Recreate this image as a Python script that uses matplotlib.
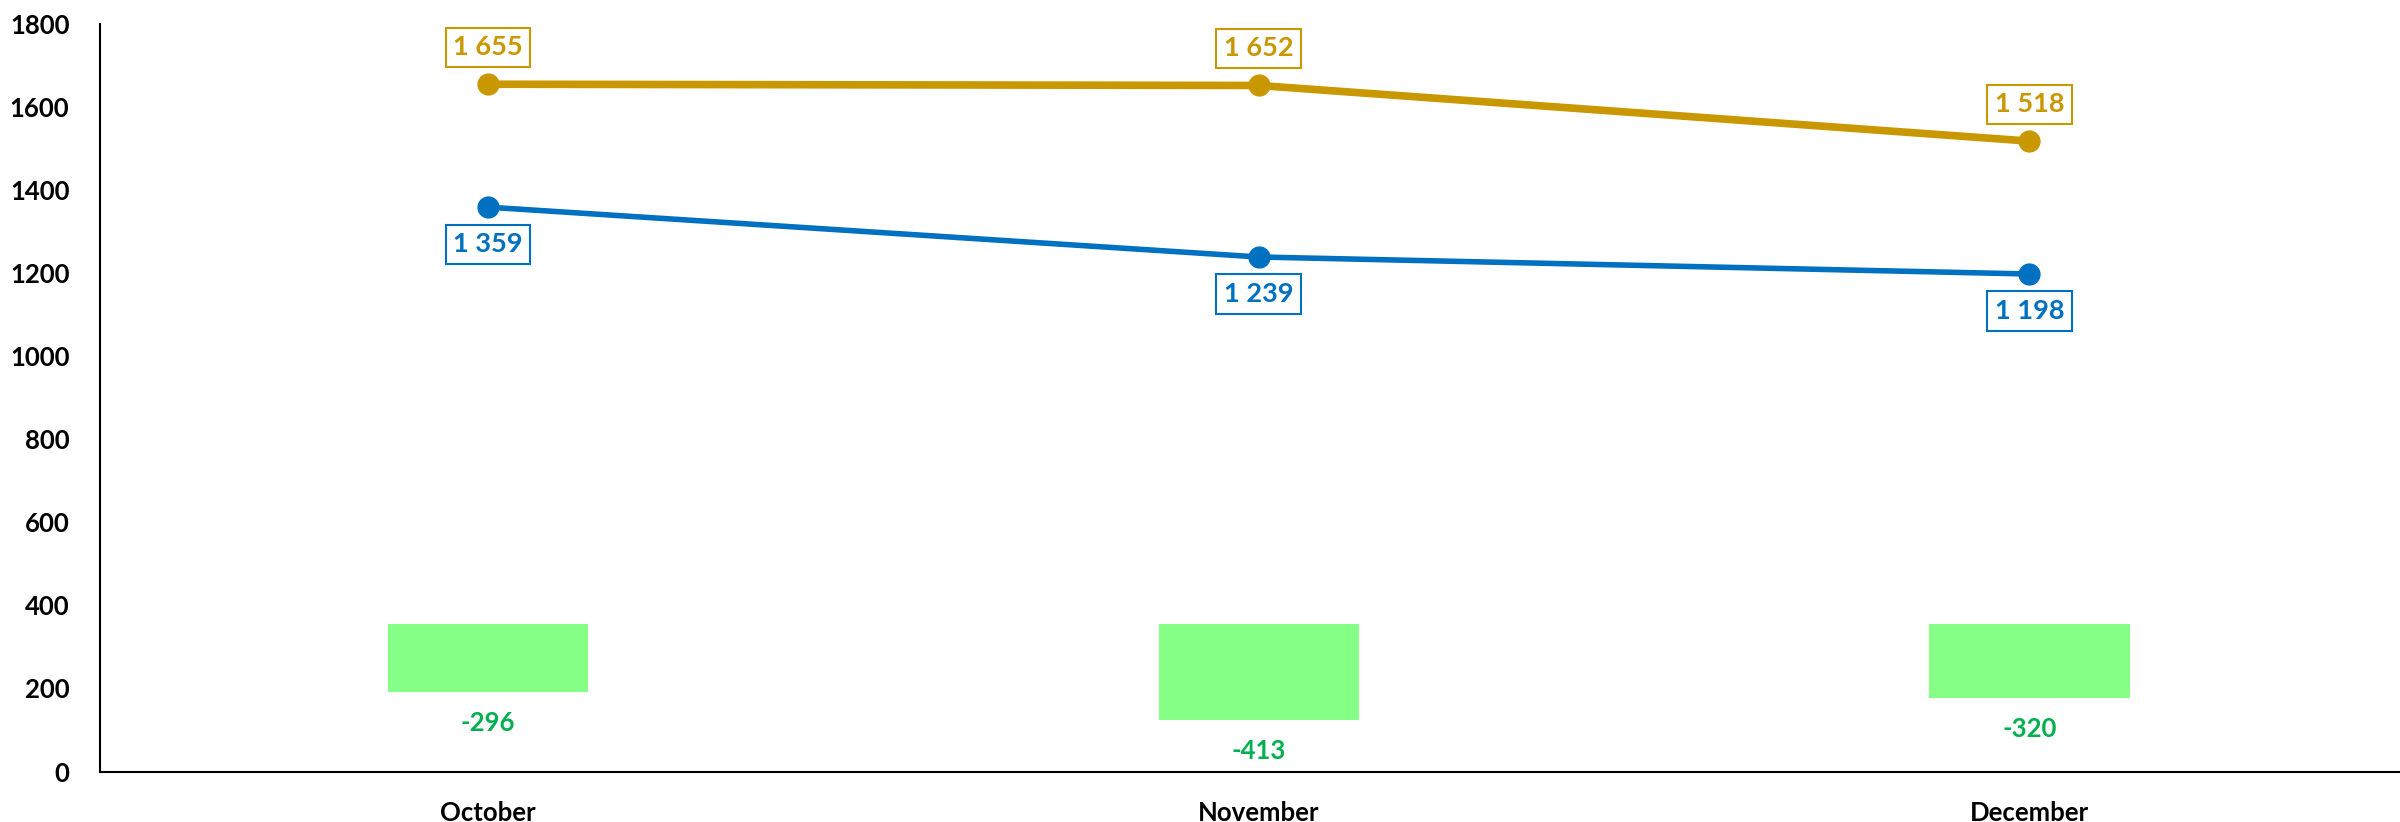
import matplotlib
matplotlib.use("Agg")
import matplotlib.pyplot as plt
import numpy as np

plt.rcParams["font.family"] = ["Lato", "DejaVu Sans"]
plt.rcParams["font.weight"] = "bold"

months = ["October", "November", "December"]
gold_values = [1655, 1652, 1518]
blue_values = [1359, 1239, 1198]
diff_values = [-296, -413, -320]

GOLD = "#C99700"
BLUE = "#0070C0"
BAR_GREEN = "#85FF85"
TEXT_GREEN = "#00B050"


def fmt(v):
    return f"{v:,}".replace(",", " ")


fig = plt.figure(figsize=(24, 8.22), dpi=100)
ax = fig.add_axes([0.04167, 0.0614, 0.95833, 0.9094])
x = np.arange(len(months))

# hidden axis for the difference bars
ax2 = ax.twinx()
ax2.bar(x, diff_values, width=0.26, color=BAR_GREEN, zorder=1)
ax2.set_ylim(-636, 2579)
ax2.axis("off")
for xi, d in zip(x, diff_values):
    ax2.annotate(str(d), (xi, d), xytext=(0, -31), textcoords="offset pixels",
                 ha="center", va="center", fontsize=18.5, color=TEXT_GREEN,
                 fontweight="bold")

ax.set_zorder(ax2.get_zorder() + 1)
ax.patch.set_visible(False)

ax.plot(x, gold_values, color=GOLD, linewidth=5.5, marker="o", markersize=15,
        solid_capstyle="round")
ax.plot(x, blue_values, color=BLUE, linewidth=4, marker="o", markersize=15,
        solid_capstyle="round")

for xi, v in zip(x, gold_values):
    ax.annotate(fmt(v), (xi, v), xytext=(0, 37), textcoords="offset pixels",
                ha="center", va="center", fontsize=19.5, color=GOLD, fontweight="bold",
                bbox=dict(boxstyle="square,pad=0.28", fc="white", ec=GOLD, lw=1.5))
for xi, v in zip(x, blue_values):
    ax.annotate(fmt(v), (xi, v), xytext=(0, -37), textcoords="offset pixels",
                ha="center", va="center", fontsize=19.5, color=BLUE, fontweight="bold",
                bbox=dict(boxstyle="square,pad=0.28", fc="white", ec=BLUE, lw=1.5))

ax.set_xlim(-0.5036, 2.481)
ax.set_ylim(0, 1800)
ax.set_yticks(np.arange(0, 1801, 200))
ax.set_xticks(x)
ax.set_xticklabels(months)
ax.tick_params(axis="both", length=0, labelsize=18.5)
ax.tick_params(axis="y", pad=22)
ax.tick_params(axis="x", pad=21)
for lab in ax.get_xticklabels() + ax.get_yticklabels():
    lab.set_fontweight("bold")

for s in ["top", "right"]:
    ax.spines[s].set_visible(False)
for s in ["left", "bottom"]:
    ax.spines[s].set_linewidth(1.5)
    ax.spines[s].set_color("black")

fig.savefig("out.png", dpi=100)
